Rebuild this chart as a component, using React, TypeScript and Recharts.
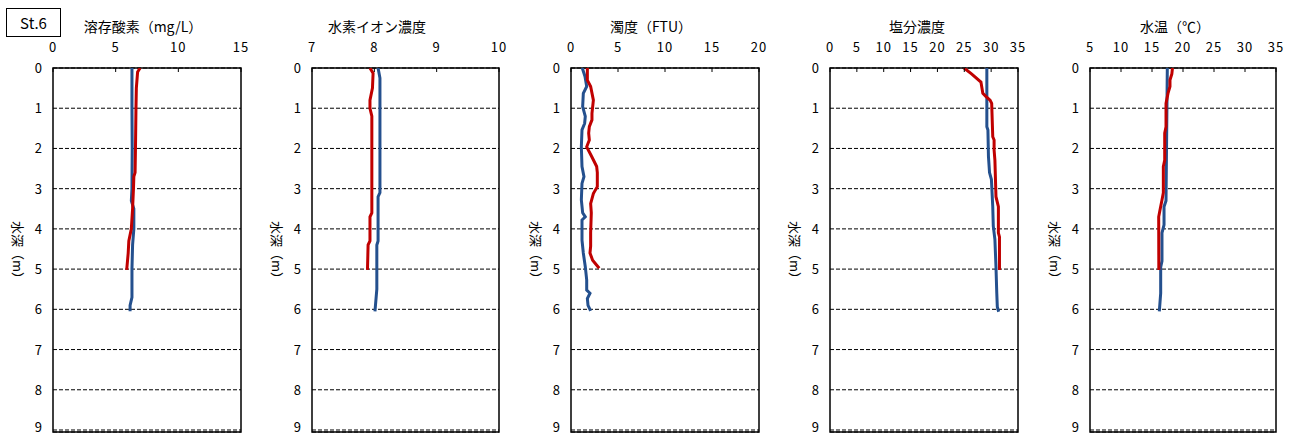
import { ScatterChart, Scatter, XAxis, YAxis, CartesianGrid, ReferenceArea } from 'recharts';

const FONT = '"Noto Sans CJK JP", "Noto Sans", sans-serif';
const RED = '#c00000';
const BLUE = '#24508e';

const depthTicks = [0, 1, 2, 3, 4, 5, 6, 7, 8, 9];
const depthMax = 9.05;

// tick labels for each panel
const doTicks = [0, 5, 10, 15];
const phTicks = [7, 8, 9, 10];
const turbTicks = [0, 5, 10, 15, 20];
const salTicks = [0, 5, 10, 15, 20, 25, 30, 35];
const tempTicks = [5, 10, 15, 20, 25, 30, 35];

// [depth (m), value]
const doRed = [[0, 6.95], [0.1, 6.75], [0.5, 6.65], [1, 6.62], [1.5, 6.6], [2, 6.58], [2.6, 6.55], [2.7, 6.45], [3, 6.42], [3.5, 6.35], [4, 6.25], [4.3, 6.05], [4.6, 6.0], [5.02, 5.88]];
const doBlue = [[0, 6.3], [1, 6.3], [2, 6.32], [3, 6.3], [3.3, 6.25], [3.5, 6.45], [4, 6.45], [4.4, 6.35], [5, 6.3], [5.7, 6.3], [5.9, 6.15], [6.05, 6.15]];

const phRed = [[0, 7.93], [0.13, 7.98], [0.5, 7.97], [0.8, 7.93], [1.0, 7.93], [1.2, 7.96], [3.6, 7.96], [3.7, 7.93], [4.3, 7.93], [4.4, 7.9], [5.02, 7.89]];
const phBlue = [[0, 8.06], [0.25, 8.09], [3.1, 8.09], [3.2, 8.06], [4.3, 8.06], [4.4, 8.04], [5.5, 8.04], [6.05, 8.01]];

const turbRed = [[0, 1.74], [0.3, 1.74], [0.46, 2.09], [0.8, 2.38], [1.13, 2.23], [1.29, 2.23], [1.46, 1.95], [1.62, 1.88], [1.79, 1.95], [1.96, 1.67], [2.2, 2.2], [2.45, 2.73], [2.6, 2.8], [2.95, 2.8], [3.12, 2.38], [3.37, 2.09], [3.6, 2.16], [4.1, 2.09], [4.43, 2.09], [4.6, 2.02], [4.78, 2.3], [4.98, 3.0]];
const turbBlue = [[0, 1.2], [0.21, 1.49], [0.46, 1.67], [0.63, 1.31], [0.96, 1.24], [1.2, 1.52], [1.38, 1.45], [1.54, 1.17], [1.96, 1.1], [2.45, 1.17], [2.7, 1.38], [2.87, 1.17], [3.28, 1.1], [3.6, 1.24], [3.7, 1.52], [3.78, 1.17], [4.28, 1.17], [4.6, 1.31], [4.94, 1.52], [5.27, 1.67], [5.52, 1.67], [5.6, 2.02], [5.73, 1.74], [5.9, 1.81], [6.04, 2.09]];

const salRed = [[0, 24.95], [0.15, 26.4], [0.35, 28.1], [0.63, 28.45], [0.71, 29.05], [0.8, 29.8], [0.88, 30.1], [1.71, 30.3], [1.79, 30.55], [2.04, 30.55], [2.29, 30.7], [3.2, 30.9], [3.45, 31.35], [4.1, 31.35], [4.2, 31.55], [5.02, 31.55]];
const salBlue = [[0, 29.2], [1.46, 29.2], [1.54, 29.4], [2.2, 29.5], [2.6, 29.7], [2.77, 30.05], [3.45, 30.3], [3.93, 30.4], [4.26, 30.7], [4.94, 30.9], [5.6, 31.05], [5.94, 31.15], [6.06, 31.4]];

const tempRed = [[0, 18.3], [0.15, 18.2], [0.3, 17.9], [0.46, 17.9], [0.63, 17.58], [0.88, 17.26], [1.46, 17.26], [1.62, 17.05], [2.29, 17.05], [2.45, 16.83], [3.1, 16.83], [3.28, 16.61], [3.53, 16.29], [3.7, 16.08], [5.02, 16.1]];
const tempBlue = [[0, 17.47], [3.3, 17.26], [3.45, 16.94], [3.9, 16.94], [4.1, 16.61], [4.8, 16.61], [4.95, 16.4], [5.6, 16.4], [6.05, 16.18]];

const toPoints = (rows: number[][]) => rows.map(([d, v]) => ({ d, v }));

const XTick = (props: any) => {
  const { x, y, payload } = props;
  return (
    <g>
      <line x1={x} x2={x} y1={y} y2={y + 4} stroke="#000" strokeWidth={1} />
      <text x={x} y={y - 16} textAnchor="middle" fontSize={13} fontFamily={FONT} fill="#000" letterSpacing={1}>
        {payload.value}
      </text>
    </g>
  );
};

const YTick = (props: any) => {
  const { x, y, payload } = props;
  // keep the bottom label inside the page
  const baseY = Math.min(y + 5, 432);
  return (
    <text x={x - 11} y={baseY} textAnchor="end" fontSize={13} fontFamily={FONT} fill="#000">
      {payload.value}
    </text>
  );
};

const noDot = () => <g />;

interface PanelProps {
  title: string;
  titleX: number;
  plotLeft: number;
  plotWidth: number;
  domain: number[];
  ticks: number[];
  red: number[][];
  blue: number[][];
}

const Panel = ({ title, titleX, plotLeft, plotWidth, domain, ticks, red, blue }: PanelProps) => {
  const width = plotWidth + 53 + 19;
  return (
    <>
      <div style={{ position: 'absolute', left: titleX - 100, top: 16, width: 200, textAlign: 'center', fontSize: 14, lineHeight: '20px', fontFamily: FONT }}>
        {title}
      </div>
      <div style={{ position: 'absolute', left: plotLeft - 35 - 40, top: 253 - 10, width: 80, height: 20, textAlign: 'center', fontSize: 13, lineHeight: '20px', fontFamily: FONT, transform: 'rotate(90deg)' }}>
        水深（m）
      </div>
      <div style={{ position: 'absolute', left: plotLeft - 53, top: 0 }}>
        <ScatterChart width={width} height={437} margin={{ top: 48, right: 19, bottom: 5, left: 33 }}>
          <CartesianGrid horizontal vertical={false} stroke="#000" strokeDasharray="4 2" />
          <XAxis type="number" dataKey="v" orientation="top" domain={domain} ticks={ticks} interval={0} height={20}
            allowDataOverflow axisLine={false} tickLine={false} tickSize={0} tickMargin={0} tick={<XTick />} />
          <YAxis type="number" dataKey="d" domain={[0, depthMax]} ticks={depthTicks} interval={0} reversed width={20}
            allowDataOverflow axisLine={false} tickLine={false} tickSize={0} tickMargin={0} tick={<YTick />} />
          <ReferenceArea x1={domain[0]} x2={domain[1]} y1={0} y2={depthMax} fill="none" fillOpacity={0} stroke="#000" strokeWidth={1.5} />
          <Scatter data={toPoints(blue)} line={{ stroke: BLUE, strokeWidth: 3 }} lineJointType="linear" shape={noDot} isAnimationActive={false} />
          <Scatter data={toPoints(red)} line={{ stroke: RED, strokeWidth: 3 }} lineJointType="linear" shape={noDot} isAnimationActive={false} />
        </ScatterChart>
      </div>
    </>
  );
};

export default function App() {
  return (
    <div style={{ position: 'absolute', left: 0, top: 0, width: 1300, height: 437, background: '#fff', fontFamily: FONT }}>
      <div style={{ position: 'absolute', left: 6, top: 8, width: 53, height: 27, border: '1px solid #000', textAlign: 'center', lineHeight: '27px', fontSize: 15, fontFamily: FONT }}>
        St.6
      </div>
      <Panel title="溶存酸素（mg/L）" titleX={143} plotLeft={53} plotWidth={188} domain={[0, 15]} ticks={doTicks} red={doRed} blue={doBlue} />
      <Panel title="水素イオン濃度" titleX={377} plotLeft={312} plotWidth={187} domain={[7, 10]} ticks={phTicks} red={phRed} blue={phBlue} />
      <Panel title="濁度（FTU）" titleX={651} plotLeft={571} plotWidth={188} domain={[0, 20]} ticks={turbTicks} red={turbRed} blue={turbBlue} />
      <Panel title="塩分濃度" titleX={917} plotLeft={830} plotWidth={188} domain={[0, 35]} ticks={salTicks} red={salRed} blue={salBlue} />
      <Panel title="水温（℃）" titleX={1175} plotLeft={1090} plotWidth={186} domain={[5, 35]} ticks={tempTicks} red={tempRed} blue={tempBlue} />
    </div>
  );
}
